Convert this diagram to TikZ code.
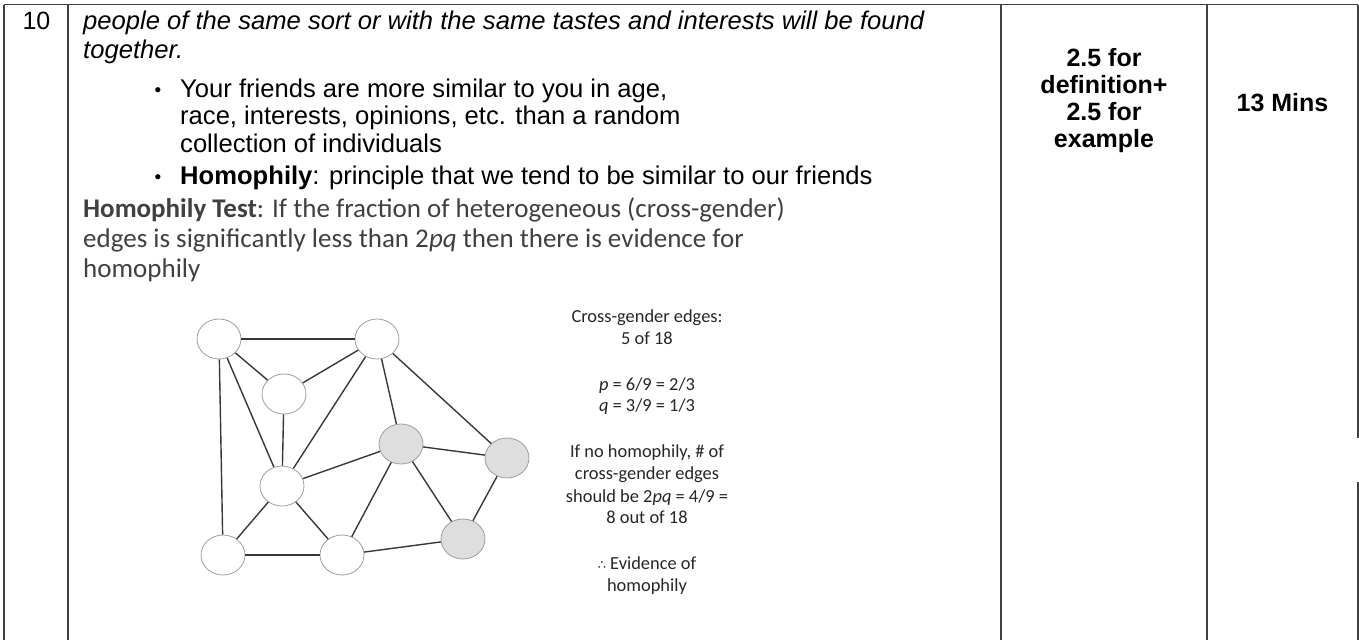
\documentclass[tikz,border=0pt]{standalone}
\usepackage{fontspec}
\setmainfont{Liberation Sans}
\newfontfamily\calib{Carlito}
\newfontfamily\dejavu{DejaVu Sans}
\usetikzlibrary{shapes.geometric}
\begin{document}
\begin{tikzpicture}[x=1pt,y=-1pt,
  rule/.style={line width=1.3pt, draw=black!75},
  gnode/.style={ellipse, draw=black!38, line width=0.8pt, fill=white, minimum width=44pt, minimum height=40pt, inner sep=0pt},
  shaded/.style={gnode, fill=black!13},
  gedge/.style={draw=black!78, line width=1.4pt},
  body/.style={font=\fontsize{25.6}{29}\selectfont, anchor=base west, inner sep=0pt},
  bul/.style={font=\fontsize{19}{29}\selectfont, anchor=base, inner sep=0pt},
  testtxt/.style={font=\calib\fontsize{27}{30}\selectfont, text=black!75, anchor=base west, inner sep=0pt},
  small/.style={font=\calib\fontsize{18.4}{22}\selectfont, text=black!85, anchor=base, inner sep=0pt},
  marks/.style={font=\bfseries\fontsize{25}{27}\selectfont, anchor=base, inner sep=0pt}]
\useasboundingbox (0,0) rectangle (1359,640);

% table rules
\coordinate (tl) at (4,4.5);
\coordinate (tr) at (1358,4.5);
\draw[rule] (tl) -- (tr);
\draw[rule] (4,4.5) -- (4,640);
\draw[rule] (68,4.5) -- (68,640);
\draw[rule] (1001,4.5) -- (1001,640);
\draw[rule] (1207,4.5) -- (1207,640);
\draw[rule] (1358,4.5) -- (1358,438);
\draw[rule] (1358,482) -- (1358,640);

% row number
\node[font=\fontsize{25}{27}\selectfont, anchor=base, inner sep=0pt] (num) at (36.5,29.5) {10};

% definition text
\node[body] (l1) at (83,29.5) {\itshape people of the same sort or with the same tastes and interests will be found};
\node[body] (l2) at (83,58) {\itshape together.};
\node[bul]  (b1) at (158,96) {•};
\node[body] (l3) at (180,97) {Your friends are more similar to you in age,};
\node[body] (l4) at (180,124.5) {race, interests, opinions, etc. than a random};
\node[body] (l5) at (180,152) {collection of individuals};
\node[bul]  (b2) at (158,183) {•};
\node[body] (l6) at (180,184) {\textbf{Homophily}: principle that we tend to be similar to our friends};

\node[testtxt] (t1) at (83,217) {\textbf{Homophily Test}: If the fraction of heterogeneous (cross-gender)};
\node[testtxt] (t2) at (83,247) {edges is significantly less than 2\textit{pq} then there is evidence for};
\node[testtxt] (t3) at (83,277) {homophily};

% graph
\node[gnode]  (A) at (219,339) {};
\node[gnode]  (B) at (377,339) {};
\node[gnode]  (C) at (284,394) {};
\node[gnode]  (D) at (282,486) {};
\node[shaded] (E) at (401,444) {};
\node[shaded] (F) at (507,458) {};
\node[shaded] (G) at (463,539) {};
\node[gnode]  (H) at (223,555) {};
\node[gnode]  (I) at (342,555) {};
\draw[gedge] (A) -- (B);
\draw[gedge] (A) -- (C);
\draw[gedge] (A) -- (D);
\draw[gedge] (A) -- (H);
\draw[gedge] (B) -- (C);
\draw[gedge] (B) -- (D);
\draw[gedge] (B) -- (E);
\draw[gedge] (B) -- (F);
\draw[gedge] (C) -- (D);
\draw[gedge] (D) -- (E);
\draw[gedge] (D) -- (H);
\draw[gedge] (D) -- (I);
\draw[gedge] (E) -- (I);
\draw[gedge] (E) -- (G);
\draw[gedge] (E) -- (F);
\draw[gedge] (F) -- (G);
\draw[gedge] (G) -- (I);
\draw[gedge] (H) -- (I);

% side notes
\node[small] (s1) at (647,322) {Cross-gender edges:};
\node[small] (s2) at (647,344) {5 of 18};
\node[small] (s3) at (647,390) {\textit{p} = 6/9 = 2/3};
\node[small] (s4) at (647,411) {\textit{q} = 3/9 = 1/3};
\node[small] (s5) at (647,457) {If no homophily, \# of};
\node[small] (s6) at (647,479) {cross-gender edges};
\node[small] (s7) at (647,502) {should be 2\textit{pq} = 4/9 =};
\node[small] (s8) at (647,523) {8 out of 18};
\node[small] (s9) at (647,569) {{\dejavu\fontsize{13}{22}\selectfont ∴} Evidence of};
\node[small] (s10) at (647,591) {homophily};

% marks and time
\node[marks] (m1) at (1104,66) {2.5 for};
\node[marks] (m2) at (1104,93) {definition+};
\node[marks] (m3) at (1104,120) {2.5 for};
\node[marks] (m4) at (1104,147) {example};
\node[marks] (tm) at (1282.5,111) {13 Mins};
\end{tikzpicture}
\end{document}
